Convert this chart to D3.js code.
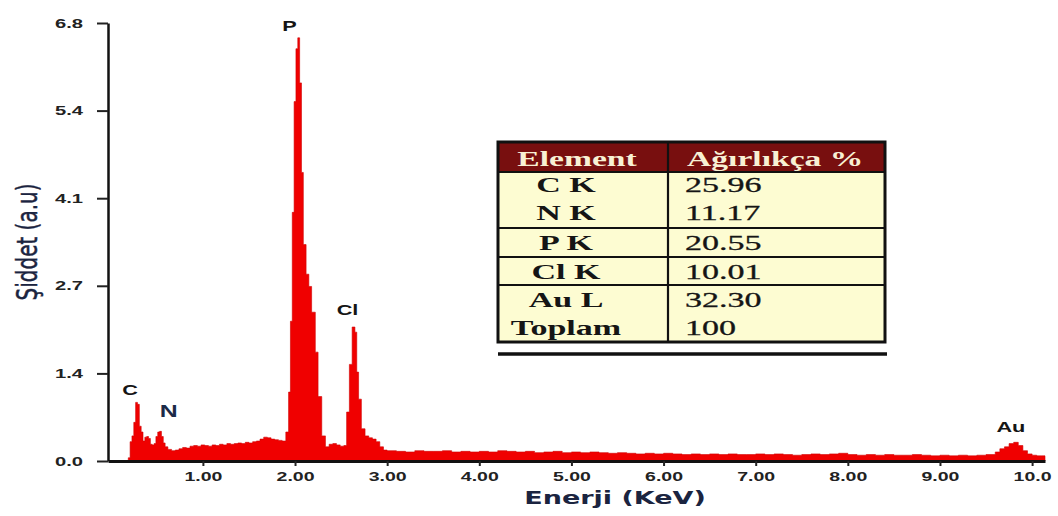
<!DOCTYPE html>
<html>
<head>
<meta charset="utf-8">
<script src="https://cdn.jsdelivr.net/npm/d3@7"></script>
<style>
  html, body { margin: 0; padding: 0; background: #fff; }
  svg { display: block; }
</style>
</head>
<body>
<svg id="chart" width="1058" height="516"></svg>
<script>
// EDS spectrum: energy (keV) and intensity (a.u.)
const energy = [
  0.17, 0.19, 0.21, 0.23, 0.25, 0.27, 0.29, 0.31, 0.33, 0.35, 0.37, 0.39, 0.41, 0.43, 0.45, 0.47,
  0.49, 0.51, 0.53, 0.55, 0.57, 0.59, 0.62, 0.66, 0.70, 0.74, 0.78, 0.82, 0.86, 0.90, 0.94, 0.98,
  1.02, 1.06, 1.10, 1.14, 1.18, 1.22, 1.26, 1.30, 1.34, 1.38, 1.42, 1.46, 1.50, 1.54, 1.58, 1.62,
  1.66, 1.70, 1.74, 1.78, 1.82, 1.86, 1.90, 1.93, 1.95, 1.97, 1.99, 2.01, 2.03, 2.05, 2.07, 2.09,
  2.12, 2.15, 2.18, 2.22, 2.25, 2.29, 2.33, 2.37, 2.41, 2.45, 2.49, 2.53, 2.56, 2.59, 2.62, 2.65,
  2.67, 2.69, 2.72, 2.76, 2.80, 2.84, 2.88, 2.92, 2.96, 3.00,
  3.1, 3.2, 3.3, 3.4, 3.5, 3.6, 3.7, 3.8, 3.9, 4.0, 4.1, 4.2, 4.3, 4.4, 4.5, 4.6, 4.7, 4.8, 4.9,
  5.0, 5.1, 5.2, 5.3, 5.4, 5.5, 5.6, 5.7, 5.8, 5.9, 6.0, 6.1, 6.2, 6.3, 6.4, 6.5, 6.6, 6.7, 6.8,
  6.9, 7.0, 7.1, 7.2, 7.3, 7.4, 7.5, 7.6, 7.7, 7.8, 7.9, 8.0, 8.1, 8.2, 8.3, 8.4, 8.5, 8.6, 8.7,
  8.8, 8.9, 9.0, 9.1, 9.2, 9.3, 9.4, 9.5, 9.6, 9.65, 9.7, 9.75, 9.8, 9.85, 9.9, 9.95, 10.0, 10.05,
  10.1, 10.14
];
const intensity = [
  0.00, 0.05, 0.30, 0.39, 0.60, 0.91, 0.88, 0.54, 0.45, 0.31, 0.37, 0.38, 0.35, 0.26, 0.25, 0.27,
  0.38, 0.45, 0.46, 0.38, 0.28, 0.22, 0.18, 0.16, 0.17, 0.19, 0.21, 0.20, 0.23, 0.24, 0.23, 0.25,
  0.24, 0.23, 0.25, 0.24, 0.26, 0.25, 0.27, 0.26, 0.27, 0.28, 0.27, 0.29, 0.28, 0.30, 0.31, 0.34,
  0.37, 0.36, 0.34, 0.33, 0.32, 0.31, 0.45, 1.07, 2.17, 3.86, 5.58, 6.40, 6.57, 5.87, 4.48, 3.36,
  2.90, 2.71, 2.31, 1.69, 1.00, 0.39, 0.22, 0.26, 0.27, 0.25, 0.23, 0.24, 0.76, 1.50, 2.08, 2.00,
  1.38, 0.96, 0.50, 0.39, 0.36, 0.34, 0.30, 0.22, 0.17, 0.16,
  0.15, 0.14, 0.16, 0.15, 0.15, 0.16, 0.14, 0.15, 0.14, 0.15, 0.14, 0.16, 0.15, 0.14, 0.15, 0.13, 0.14, 0.15, 0.13,
  0.14, 0.13, 0.14, 0.13, 0.12, 0.13, 0.12, 0.11, 0.12, 0.11, 0.12, 0.11, 0.10, 0.11, 0.10, 0.11, 0.10, 0.11, 0.10,
  0.10, 0.11, 0.10, 0.11, 0.10, 0.09, 0.10, 0.11, 0.10, 0.11, 0.12, 0.10, 0.09, 0.10, 0.09, 0.10, 0.09, 0.09, 0.10,
  0.09, 0.08, 0.09, 0.08, 0.09, 0.08, 0.09, 0.10, 0.14, 0.19, 0.22, 0.27, 0.29, 0.24, 0.16, 0.11, 0.09, 0.08,
  0.08, 0.07
];

// Peak labels
const peakNames = ["C", "N", "P", "Cl", "Au"];
const peakEnergy = [0.21, 0.63, 1.94, 2.57, 9.77];
const peakLabelValue = [1.02, 0.68, 6.67, 2.27, 0.45];
const peakColors = ["#151515", "#1c2a48", "#151515", "#151515", "#151515"];

// Axis ticks
const yTicks = [0, 1.36, 2.72, 4.08, 5.44, 6.8];
const xTicks = [1, 2, 3, 4, 5, 6, 7, 8, 9, 10];

// Composition table
const tableHeader = ["Element", "Ağırlıkça %"];
const elements = ["C K", "N K", "P K", "Cl K", "Au L", "Toplam"];
const weights = ["25.96", "11.17", "20.55", "10.01", "32.30", "100"];

const svg = d3.select("#chart");

const x = d3.scaleLinear().domain([-0.03, 10.14]).range([108, 1045]);
const y = d3.scaleLinear().domain([0, 6.8]).range([461, 23]);

// widen text horizontally by factor k
function stretch(sel, k) {
  sel.each(function () {
    const w = this.getComputedTextLength();
    d3.select(this).attr("textLength", w * k).attr("lengthAdjust", "spacingAndGlyphs");
  });
}

// spectrum fill
const spectrum = energy.map((e, i) => ({ e, v: intensity[i] }));
const area = d3.area()
  .x(d => x(d.e))
  .y0(y(0))
  .y1(d => y(d.v))
  .curve(d3.curveStepAfter);

svg.append("path")
  .datum(spectrum)
  .attr("d", area)
  .attr("fill", "#f00000")
  .attr("stroke", "#d00000")
  .attr("stroke-width", 0.6)
  .attr("stroke-linejoin", "miter");

// y axis
const yAxis = d3.axisLeft(y)
  .tickValues(yTicks)
  .tickFormat(d3.format(".1f"))
  .tickSize(11)
  .tickPadding(14)
  .tickSizeOuter(0);
const gy = svg.append("g").attr("transform", "translate(108,0)").call(yAxis);
gy.select(".domain").attr("stroke", "#111").attr("stroke-width", 2.5);
gy.selectAll(".tick line").attr("stroke", "#222").attr("stroke-width", 2);
gy.selectAll(".tick text")
  .attr("fill", "#222")
  .style("font-family", "'Liberation Sans', Arial, sans-serif")
  .style("font-weight", "bold")
  .style("font-size", "13px");
stretch(gy.selectAll(".tick text"), 1.55);

// x axis
const xAxis = d3.axisBottom(x)
  .tickValues(xTicks)
  .tickFormat(d3.format(".3r"))
  .tickSize(5)
  .tickPadding(6)
  .tickSizeOuter(0);
const gx = svg.append("g").attr("transform", "translate(0,461)").call(xAxis);
gx.select(".domain").attr("stroke", "#111").attr("stroke-width", 3);
gx.selectAll(".tick line").attr("stroke", "#222").attr("stroke-width", 2);
gx.selectAll(".tick text")
  .attr("fill", "#222")
  .style("font-family", "'Liberation Sans', Arial, sans-serif")
  .style("font-weight", "bold")
  .style("font-size", "13px");
stretch(gx.selectAll(".tick text"), 1.5);

// axis titles
const xTitle = svg.append("text")
  .attr("x", 615).attr("y", 504)
  .attr("text-anchor", "middle")
  .attr("fill", "#1b2440")
  .style("font-family", "'DejaVu Sans', Verdana, sans-serif")
  .style("font-weight", "bold")
  .style("font-size", "18px")
  .text("Enerji (KeV)");
stretch(xTitle, 1.5);

svg.append("g")
  .attr("transform", "translate(37,242) scale(1.45,1) rotate(-90)")
  .append("text")
  .attr("text-anchor", "middle")
  .attr("fill", "#1b2440")
  .attr("stroke", "#1b2440")
  .attr("stroke-width", 0.35)
  .style("font-family", "'DejaVu Sans', Verdana, sans-serif")
  .style("font-size", "20px")
  .text("Şiddet (a.u)");

// peak labels
const peakText = svg.append("g").selectAll("text")
  .data(peakNames)
  .join("text")
  .attr("x", (d, i) => x(peakEnergy[i]))
  .attr("y", (d, i) => y(peakLabelValue[i]))
  .attr("text-anchor", "middle")
  .attr("fill", (d, i) => peakColors[i])
  .style("font-family", "'Liberation Sans', Arial, sans-serif")
  .style("font-weight", "bold")
  .style("font-size", (d, i) => i === 1 ? "16px" : "14px")
  .text(d => d);
stretch(peakText, 1.55);

// composition table
const tb = { left: 498, right: 885, top: 142, headBottom: 172, split: 668, bottom: 342 };
const rowCenters = [185, 213, 243, 272, 300, 328];
const separators = [228, 257, 285];
const table = svg.append("g");

table.append("rect")
  .attr("x", tb.left).attr("y", tb.top)
  .attr("width", tb.right - tb.left).attr("height", tb.bottom - tb.top)
  .attr("fill", "#fdfcd2");
table.append("rect")
  .attr("x", tb.left).attr("y", tb.top)
  .attr("width", tb.right - tb.left).attr("height", tb.headBottom - tb.top)
  .attr("fill", "#780f0f");

const lineStyle = s => s.attr("stroke", "#111").attr("stroke-width", 2.2);
table.append("line").attr("x1", tb.left).attr("x2", tb.right).attr("y1", tb.headBottom).attr("y2", tb.headBottom).call(lineStyle);
table.selectAll("line.sep").data(separators).join("line")
  .attr("class", "sep")
  .attr("x1", tb.left).attr("x2", tb.right)
  .attr("y1", d => d).attr("y2", d => d)
  .call(lineStyle);
table.append("line").attr("x1", tb.split).attr("x2", tb.split).attr("y1", tb.top).attr("y2", tb.bottom).call(lineStyle);
table.append("rect")
  .attr("x", tb.left).attr("y", tb.top)
  .attr("width", tb.right - tb.left).attr("height", tb.bottom - tb.top)
  .attr("fill", "none").attr("stroke", "#111").attr("stroke-width", 3);
table.append("line")
  .attr("x1", tb.left).attr("x2", tb.right + 2)
  .attr("y1", 354).attr("y2", 354)
  .attr("stroke", "#111").attr("stroke-width", 3.5);

const serif = "'Liberation Serif', 'Times New Roman', serif";
const head = table.selectAll("text.head").data(tableHeader).join("text")
  .attr("class", "head")
  .attr("x", (d, i) => i === 0 ? 577 : 687)
  .attr("y", 166)
  .attr("text-anchor", (d, i) => i === 0 ? "middle" : "start")
  .attr("fill", "#f8f1d4")
  .style("font-family", serif)
  .style("font-weight", "bold")
  .style("font-size", "20px")
  .text(d => d);
stretch(head, 1.68);

const names = table.selectAll("text.el").data(elements).join("text")
  .attr("class", "el")
  .attr("x", 566)
  .attr("y", (d, i) => rowCenters[i] + 7)
  .attr("text-anchor", "middle")
  .attr("fill", "#151515")
  .style("font-family", serif)
  .style("font-weight", "bold")
  .style("font-size", "21px")
  .text(d => d);
stretch(names, 1.62);

const vals = table.selectAll("text.val").data(weights).join("text")
  .attr("class", "val")
  .attr("x", 685)
  .attr("y", (d, i) => rowCenters[i] + 7)
  .attr("fill", "#151515")
  .attr("stroke", "#151515")
  .attr("stroke-width", 0.3)
  .style("font-family", serif)
  .style("font-size", "21px")
  .text(d => d);
stretch(vals, 1.62);
</script>
</body>
</html>
